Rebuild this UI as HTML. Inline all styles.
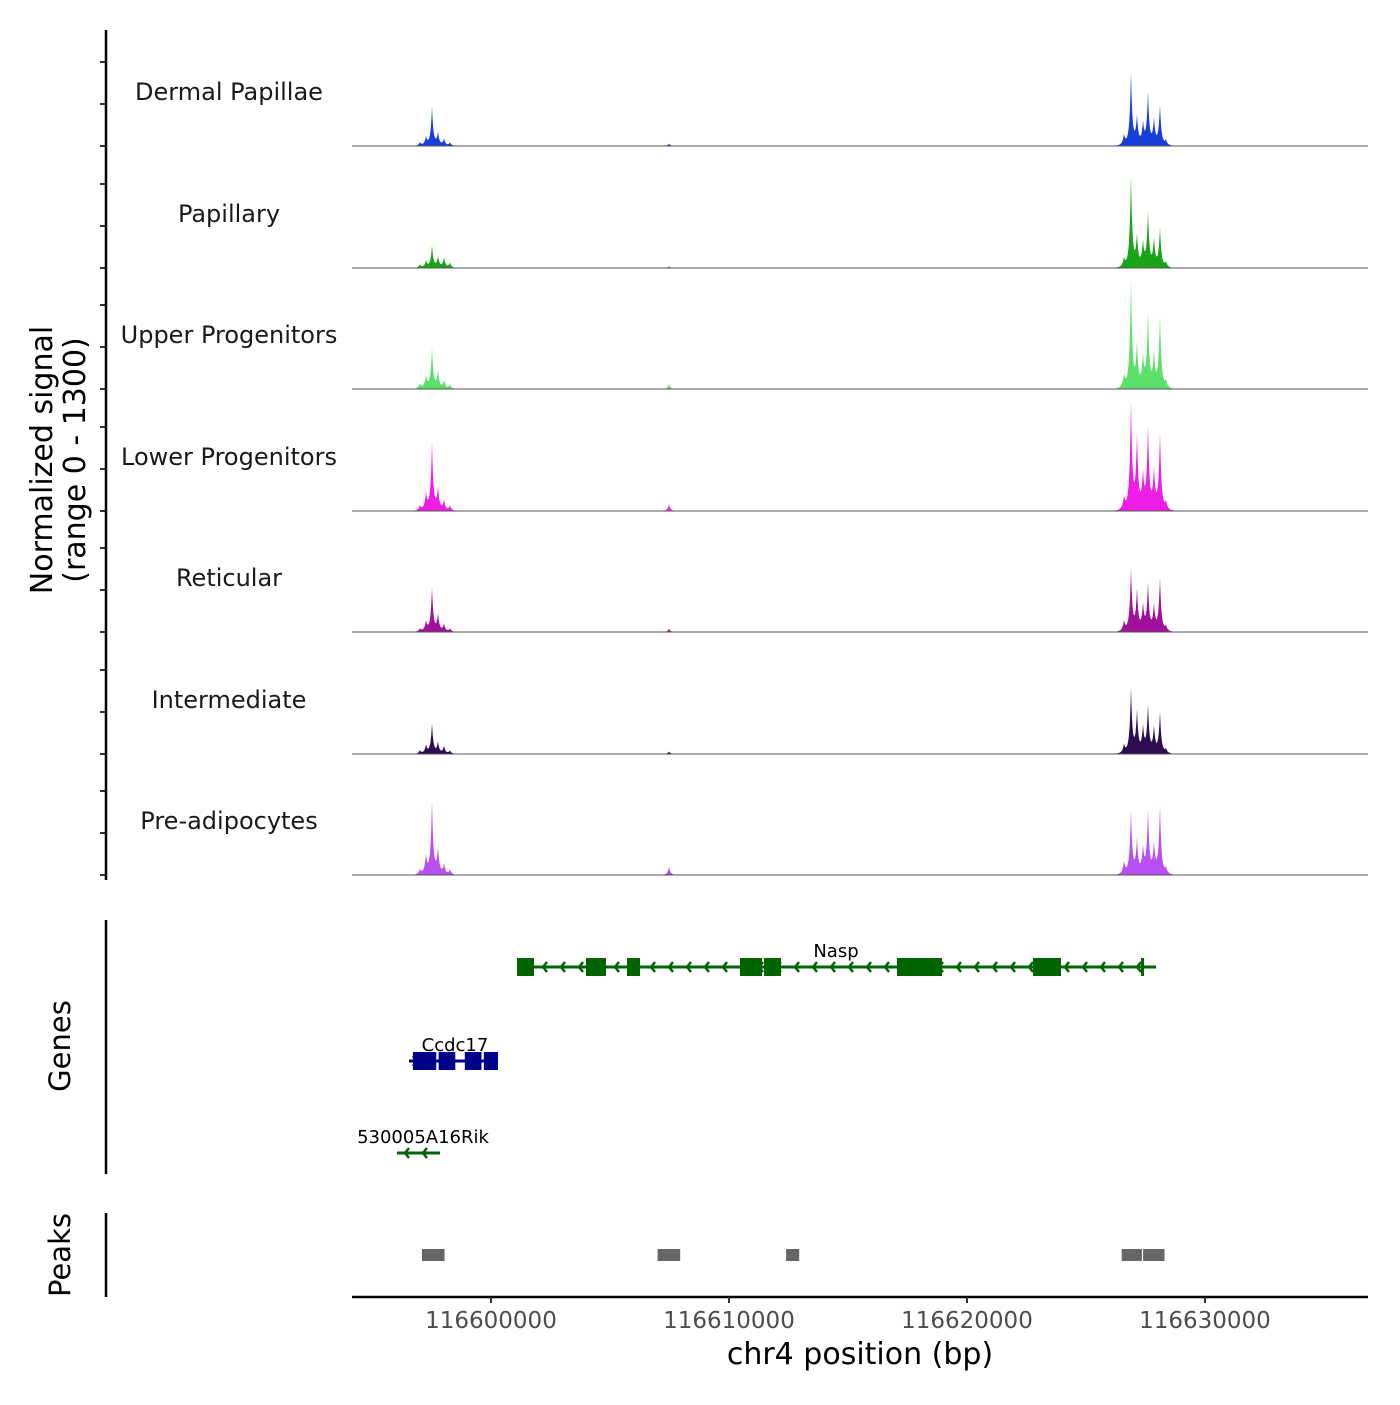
<!DOCTYPE html>
<html><head><meta charset="utf-8"><style>
body{margin:0;background:#fff}
svg text{font-family:"DejaVu Sans","Liberation Sans",sans-serif}
</style></head><body>
<svg id="chart" width="1400" height="1400" xmlns="http://www.w3.org/2000/svg">
<g id="tracks"></g>
<g id="genes"></g>
<g id="peaks"></g>
<g id="axes"></g>
</svg>
<script>
const trackNames = ["Dermal Papillae","Papillary","Upper Progenitors","Lower Progenitors","Reticular","Intermediate","Pre-adipocytes"];
const trackColors = ["#1a3fd9","#18a318","#5ce06a","#ee1ee6","#a0109a","#2e0c52","#b94ff2"];
const peakPositions = [116597017,116597269,116597521,116597773,116598025,116598277,116607480,116626597,116626891,116627143,116627395,116627605,116627857,116628109,116628361];
const trackHeights = [
 [40,100,460,150,80,40,30,120,870,330,250,620,300,480,60],
 [40,80,260,130,120,60,20,100,1080,360,280,650,320,470,60],
 [60,150,480,200,100,50,60,150,1270,500,350,880,400,870,80],
 [60,200,800,260,120,60,80,150,1280,850,400,990,450,920,90],
 [40,120,520,200,90,40,40,120,740,480,300,560,300,640,60],
 [40,100,360,130,90,40,30,100,770,490,300,560,300,490,50],
 [60,220,870,300,120,60,100,150,750,400,300,750,350,820,70]
];
const axisTicks = [116600000,116610000,116620000,116630000];
const signalTicks = [0,500,1000];
const nasp = {start:116601093,end:116627942,exons:[[116601093,116601807],[116603992,116604832],[116605715,116606261],[116610463,116611387],[116611471,116612185],[116617059,116618950],[116622773,116623950],[116627311,116627437]]};
const ccdc = {start:116596555,end:116600294,exons:[[116596720,116597700],[116597800,116598500],[116598900,116599600],[116599700,116600294]]};
const rik = {start:116596050,end:116597857};
const peakRegions = [[116597100,116598050],[116607000,116607950],[116612400,116612950],[116626500,116627350],[116627400,116628300]];

const NS="http://www.w3.org/2000/svg";
const X0=352,X1=1368,D0=116594160,D1=116636850;
const xs=v=>X0+(v-D0)/(D1-D0)*(X1-X0);
const baselines=[146,268,389,511,632,754,875];
const PX=0.084;
function el(tag,attrs,parent,txt){const e=document.createElementNS(NS,tag);for(const k in attrs)e.setAttribute(k,attrs[k]);if(txt!==undefined)e.textContent=txt;parent.appendChild(e);return e;}
const T=document.getElementById('tracks'),G=document.getElementById('genes'),P=document.getElementById('peaks'),A=document.getElementById('axes');

trackNames.forEach((name,i)=>{
 const b=baselines[i];
 let d=`M${X0},${b}`;
 for(let x=X0;x<=X1;x+=0.5){
  let v=0;
  peakPositions.forEach((p,j)=>{const px=xs(p);const h=trackHeights[i][j];const dd=Math.abs(x-px);v+=h*(0.85*Math.exp(-dd/1.3)+0.15*Math.exp(-dd/4));});
  d+=` L${x},${(b-v*PX).toFixed(2)}`;
 }
 d+=` L${X1},${b} Z`;
 const a=el('path',{d:d,fill:trackColors[i]},T);
 
 
 const l=el('line',{x1:X0,x2:X1,y1:b,y2:b,stroke:'#555','stroke-width':1},T);
 
 
 const t=el('text',{x:229,y:b-46,'font-size':24,'text-anchor':'middle',fill:'#1a1a1a'},T,name);
 
 
 signalTicks.forEach(s=>{const tk=el('line',{x1:100,x2:106,y1:b-s*PX,y2:b-s*PX,stroke:'#333','stroke-width':2},A);
  
  });
});
let ya=el('line',{x1:106,x2:106,y1:30,y2:880,stroke:'#000','stroke-width':2.5},A);

let yt=el('text',{transform:'translate(52,460) rotate(-90)','font-size':30,'text-anchor':'middle',fill:'#000'},A);

el('tspan',{x:0,dy:0},yt,'Normalized signal');el('tspan',{x:0,dy:33},yt,'(range 0 - 1300)');

function drawGene(g,y,color,name,dir,labelX,nm){
 const grp=el('g',{},G);
 
 
 el('line',{x1:xs(g.start),x2:xs(g.end),y1:y,y2:y,stroke:color,'stroke-width':3},grp);
 for(let x=xs(g.start)+8;x<xs(g.end)-4;x+=18){
  el('path',{d:dir<0?`M${x+4},${y-5} L${x},${y} L${x+4},${y+5}`:`M${x-4},${y-5} L${x},${y} L${x-4},${y+5}`,stroke:color,'stroke-width':2.5,fill:'none'},grp);
 }
 (g.exons||[]).forEach(e=>el('rect',{x:xs(e[0]),y:y-9,width:Math.max(3,xs(e[1])-xs(e[0])),height:18,fill:color},grp));
 el('text',{x:labelX,y:y-10,'font-size':18,'text-anchor':'middle',fill:'#000'},grp,name);
}
drawGene(nasp,967,'#006400','Nasp',-1,836,'gene-nasp');
drawGene(ccdc,1061,'#00008b','Ccdc17',1,455,'gene-ccdc17');
drawGene(rik,1153,'#006400','530005A16Rik',-1,423,'gene-530005a16rik');
let ga=el('line',{x1:106,x2:106,y1:920,y2:1174,stroke:'#000','stroke-width':2.5},A);

let gt=el('text',{transform:'translate(70,1046) rotate(-90)','font-size':29,'text-anchor':'middle'},A,'Genes');


peakRegions.forEach(r=>{const rc=el('rect',{x:xs(r[0]),y:1249,width:xs(r[1])-xs(r[0]),height:12,fill:'#666'},P);
 
 });
let pa=el('line',{x1:106,x2:106,y1:1213,y2:1297,stroke:'#000','stroke-width':2.5},A);

let pt=el('text',{transform:'translate(70,1255) rotate(-90)','font-size':29,'text-anchor':'middle'},A,'Peaks');


let xa=el('line',{x1:X0,x2:X1,y1:1297,y2:1297,stroke:'#000','stroke-width':2.5},A);

axisTicks.forEach(t=>{
 const tk=el('line',{x1:xs(t),x2:xs(t),y1:1297,y2:1303,stroke:'#333','stroke-width':2},A);
 
 const tl=el('text',{x:xs(t),y:1328,'font-size':23,'text-anchor':'middle',fill:'#4d4d4d'},A,String(t));
 
});
let xt=el('text',{x:860,y:1364,'font-size':30,'text-anchor':'middle'},A,'chr4 position (bp)');

</script>
</body></html>
